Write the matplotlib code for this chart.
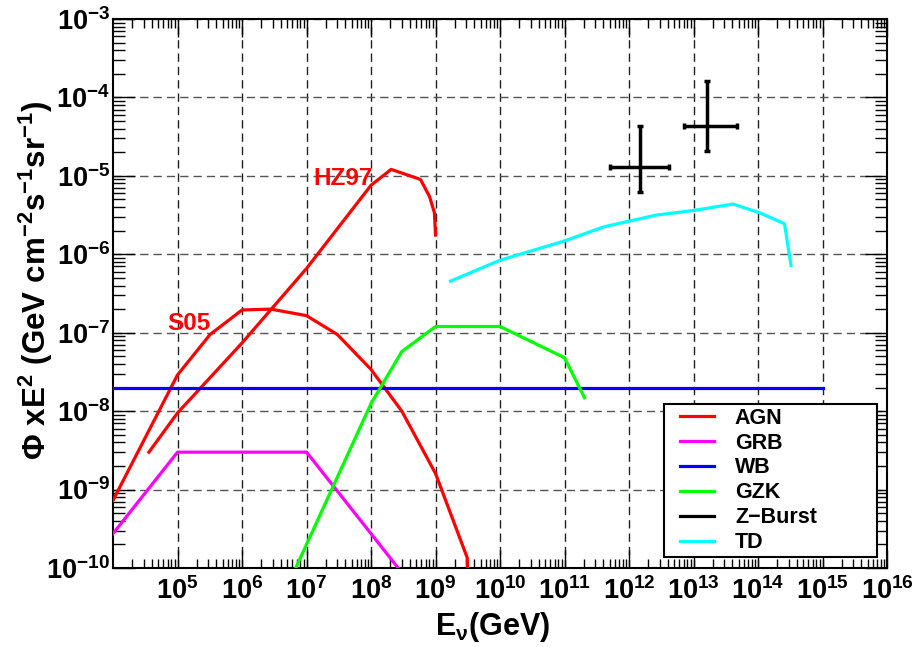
import numpy as np
import matplotlib
matplotlib.use("Agg")
import matplotlib.pyplot as plt
from matplotlib.ticker import FixedLocator, LogLocator, FuncFormatter, NullFormatter
from matplotlib.lines import Line2D
from matplotlib.legend_handler import HandlerLine2D

plt.rcParams['font.family'] = ['Liberation Sans', 'DejaVu Sans']
plt.rcParams['font.weight'] = 'bold'
plt.rcParams['mathtext.fontset'] = 'custom'
plt.rcParams['mathtext.rm'] = 'Liberation Sans:bold'
plt.rcParams['mathtext.bf'] = 'Liberation Sans:bold'
plt.rcParams['mathtext.it'] = 'Liberation Sans:bold'
plt.rcParams['mathtext.sf'] = 'Liberation Sans:bold'

# ---- neutrino flux models: E^2 * Phi  [GeV cm^-2 s^-1 sr^-1] vs E [GeV]
agn_s05_e = [1e4, 1e5, 3.2e5, 1e6, 2.8e6, 1e7, 3e7, 1e8, 3e8, 1e9, 3.1e9, 3.3e9]
agn_s05_f = [7.3e-10, 2.9e-8, 9.5e-8, 1.95e-7, 2.0e-7, 1.65e-7, 9.5e-8, 3.4e-8,
             1.0e-8, 1.6e-9, 1.35e-10, 3e-11]

agn_hz97_e = [3.6e4, 1e5, 1e6, 1e7, 1e8, 2.05e8, 5.85e8, 8.1e8, 9.6e8, 1e9]
agn_hz97_f = [3.0e-9, 9.5e-9, 7.4e-8, 6.6e-7, 7.6e-6, 1.21e-5, 9.0e-6, 5.4e-6,
              3.4e-6, 1.76e-6]

grb_e = [1e4, 1e5, 1e7, 1e9]
grb_f = [2.75e-10, 3.0e-9, 3.0e-9, 2.5e-11]

wb_e = [1e4, 1e15]
wb_f = [2.0e-8, 2.0e-8]

gzk_e = [1e6, 1e7, 1e8, 3e8, 1e9, 1e10, 1e11, 2.04e11]
gzk_f = [3.2e-12, 2.0e-10, 1.25e-8, 5.75e-8, 1.2e-7, 1.2e-7, 4.8e-8, 1.48e-8]

td_e = [1.71e9, 1e10, 1e11, 4.07e11, 2.63e12, 1.02e13, 4.07e13, 1.05e14,
        2.57e14, 3.24e14]
td_f = [4.55e-7, 8.4e-7, 1.48e-6, 2.24e-6, 3.16e-6, 3.63e-6, 4.37e-6, 3.39e-6,
        2.45e-6, 7.2e-7]

# Z-burst points with asymmetric errors
zb_e = [1.5e12, 1.62e13]
zb_e_lo = [5.0e11, 7.2e12]
zb_e_hi = [4.1e12, 4.8e13]
zb_f = [1.28e-5, 4.35e-5]
zb_f_lo = [6.3e-6, 2.1e-5]
zb_f_hi = [4.3e-5, 1.63e-4]

legend_labels = ['AGN', 'GRB', 'WB', 'GZK', 'Z\u2212Burst', 'TD']
x_decades = list(range(5, 17))
y_decades = list(range(-10, -2))

fig = plt.figure(figsize=(9.16, 6.47), dpi=100)
ax = fig.add_axes([0.1234, 0.1221, 0.845, 0.8485])
ax.set_xscale('log')
ax.set_yscale('log')
ax.set_xlim(1e4, 1e16)
ax.set_ylim(1e-10, 1e-3)

lw = 2.3
l_agn, = ax.plot(agn_s05_e, agn_s05_f, color='#ff0000', lw=lw, zorder=3)
ax.plot(agn_hz97_e, agn_hz97_f, color='#ff0000', lw=lw, zorder=3)
l_grb, = ax.plot(grb_e, grb_f, color='#ff00ff', lw=lw, zorder=3)
l_wb, = ax.plot(wb_e, wb_f, color='#0000ff', lw=lw, zorder=3)
l_gzk, = ax.plot(gzk_e, gzk_f, color='#00ff00', lw=lw, zorder=3)
l_td, = ax.plot(td_e, td_f, color='#00ffff', lw=lw, zorder=3)

xerr = [np.array(zb_e) - np.array(zb_e_lo), np.array(zb_e_hi) - np.array(zb_e)]
yerr = [np.array(zb_f) - np.array(zb_f_lo), np.array(zb_f_hi) - np.array(zb_f)]
ax.errorbar(zb_e, zb_f, xerr=xerr, yerr=yerr, fmt='none', ecolor='black',
            elinewidth=2.5, capsize=2, capthick=2.5, zorder=4)
l_zb = Line2D([], [], color='black', lw=lw)

ax.text(10**8.02, 10**-5.117, 'HZ97', color='#ff0000', fontsize=17.5,
        fontweight='bold', ha='right', va='baseline')
ax.text(10**4.84, 10**-6.967, 'S05', color='#ff0000', fontsize=17.5,
        fontweight='bold', ha='left', va='baseline')

# grid
gls = (0, (6, 3.6))
ax.grid(True, which='major', axis='x', color='#222222', lw=1.0, linestyle=gls)
ax.grid(True, which='major', axis='y', color='#555555', lw=1.0, linestyle=gls)
ax.set_axisbelow(True)

# ticks
ax.xaxis.set_major_locator(FixedLocator([10.0**e for e in x_decades]))
ax.xaxis.set_minor_locator(LogLocator(base=10, subs=np.arange(2, 10), numticks=300))
ax.yaxis.set_major_locator(FixedLocator([10.0**e for e in y_decades]))
ax.yaxis.set_minor_locator(LogLocator(base=10, subs=np.arange(2, 10), numticks=300))


def dec_fmt(v, pos):
    e = int(round(np.log10(v)))
    return r'$\mathbf{10^{%d}}$' % e


ax.xaxis.set_major_formatter(FuncFormatter(dec_fmt))
ax.yaxis.set_major_formatter(FuncFormatter(dec_fmt))
ax.xaxis.set_minor_formatter(NullFormatter())
ax.yaxis.set_minor_formatter(NullFormatter())

ax.tick_params(axis='x', which='major', direction='in', length=13, width=1,
               top=True, pad=6.5, labelsize=19.5)
ax.tick_params(axis='x', which='minor', direction='in', length=6.5, width=1, top=True)
ax.tick_params(axis='y', which='major', direction='in', length=16, width=1,
               right=True, pad=2, labelsize=19.5)
ax.tick_params(axis='y', which='minor', direction='in', length=8.5, width=1, right=True)
for s in ax.spines.values():
    s.set_linewidth(1.5)

ax.set_ylabel(r'$\mathbf{\Phi\ xE^{2}\ (GeV\ cm^{-2}s^{-1}sr^{-1})}$', fontsize=22.5)
ax.yaxis.set_label_coords(-0.075, 0.523)
ax.text(0.416, -0.0765, r'$\mathbf{E_{\nu}(GeV)}$', fontsize=22,
        ha='left', va='top', transform=ax.transAxes)

leg = ax.legend([l_agn, l_grb, l_wb, l_gzk, l_zb, l_td], legend_labels,
                loc='upper left', bbox_to_anchor=(0.712, 0.0237, 0.275, 0.275),
                mode='expand', fancybox=False, edgecolor='black', framealpha=1,
                prop={'family': 'Liberation Sans', 'weight': 'bold', 'size': 15.5},
                handler_map={Line2D: HandlerLine2D(xpad=0.56)},
                handlelength=2.14, handletextpad=0.98, labelspacing=0.18,
                borderpad=0.17, borderaxespad=0)
leg.get_frame().set_linewidth(1.5)

fig.savefig('out.png', dpi=100)
